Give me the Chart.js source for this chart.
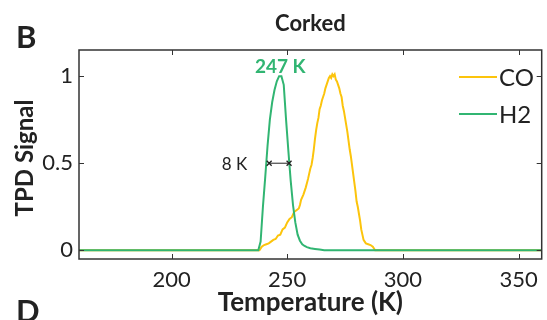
<!DOCTYPE html>
<html>
<head>
<meta charset="utf-8">
<script src="https://cdn.jsdelivr.net/npm/chart.js@4.4.1/dist/chart.umd.min.js"></script>
<style>
    html, body { margin: 0; padding: 0; background: #fff; }
    #wrap { width: 547px; height: 320px; }
</style>
</head>
<body>
<div id="wrap"><canvas id="myChart" width="547" height="320"></canvas></div>
<script>
// temperature (K) and normalised TPD signal
var h2T = [160, 237.5, 238.5, 239.5, 240.5, 241.5, 242.5, 243.5, 244.5, 245.5, 246.5, 247.5, 248.5, 249.5, 250.5, 251.5, 252.5, 253.5, 254.5, 255.5, 256.5, 257.5, 258.5, 260, 262, 264, 266, 360];
var h2Signal = [0, 0, 0.05, 0.25, 0.42, 0.6, 0.75, 0.85, 0.92, 0.97, 1.0, 1.0, 0.95, 0.75, 0.57, 0.4, 0.26, 0.16, 0.09, 0.055, 0.035, 0.025, 0.018, 0.012, 0.008, 0.004, 0, 0];

var coT = [160, 238, 239, 240, 241, 242, 243, 244, 245, 246, 247, 248, 249, 250, 251, 252, 253, 254, 255, 255.5, 256, 257, 258, 259, 259.5, 260, 260.5, 261, 261.5, 262, 262.5, 263, 263.5, 264, 264.5, 265, 265.5, 266, 266.5, 267, 267.5, 268, 268.5, 269, 269.5, 270, 270.5, 271, 271.5, 272, 272.5, 273, 273.5, 274, 274.5, 275, 275.5, 276, 276.5, 277, 277.5, 278, 278.5, 279, 279.5, 280, 280.5, 281, 281.5, 282, 282.5, 283, 283.5, 284, 285, 286, 287, 288, 360];
var coSignal = [0, 0, 0.02, 0.03, 0.035, 0.04, 0.05, 0.06, 0.065, 0.085, 0.09, 0.12, 0.13, 0.16, 0.18, 0.19, 0.22, 0.23, 0.24, 0.26, 0.29, 0.32, 0.36, 0.41, 0.44, 0.47, 0.49, 0.53, 0.58, 0.64, 0.69, 0.73, 0.76, 0.81, 0.83, 0.86, 0.88, 0.9, 0.93, 0.95, 0.97, 0.99, 1.0, 0.99, 1.01, 1.0, 1.01, 0.98, 0.97, 0.95, 0.93, 0.9, 0.88, 0.83, 0.8, 0.76, 0.72, 0.68, 0.63, 0.58, 0.54, 0.49, 0.44, 0.39, 0.34, 0.28, 0.25, 0.21, 0.17, 0.12, 0.09, 0.06, 0.05, 0.04, 0.035, 0.03, 0.02, 0, 0];

// FWHM marker for H2
var fwhmT = [242.2, 250.8];
var fwhmSignal = [0.5, 0.5];

var xTicks = [200, 250, 300, 350];
var yTicks = [0, 0.5, 1];

var green = '#31b572';
var yellow = '#fcc40c';
var ink = '#222222';
var fam = 'Lato, "Open Sans", sans-serif';

function pts(xs, ys) {
    return xs.map(function (x, i) { return { x: x, y: ys[i] }; });
}

var decor = {
    id: 'decor',
    afterDraw: function (chart) {
        var ctx = chart.ctx;
        var a = chart.chartArea;
        var sx = chart.scales.x, sy = chart.scales.y;
        ctx.save();
        // box
        ctx.strokeStyle = '#333';
        ctx.lineWidth = 1.5;
        ctx.strokeRect(a.left, a.top, a.right - a.left, a.bottom - a.top);
        // inward ticks, mirrored
        ctx.lineWidth = 1;
        ctx.beginPath();
        xTicks.forEach(function (t) {
            var px = Math.round(sx.getPixelForValue(t)) + 0.5;
            ctx.moveTo(px, a.bottom); ctx.lineTo(px, a.bottom - 5);
            ctx.moveTo(px, a.top); ctx.lineTo(px, a.top + 5);
        });
        yTicks.forEach(function (t) {
            var py = Math.round(sy.getPixelForValue(t)) + 0.5;
            ctx.moveTo(a.left, py); ctx.lineTo(a.left + 5, py);
            ctx.moveTo(a.right, py); ctx.lineTo(a.right - 5, py);
        });
        ctx.stroke();

        // legend inside the plot
        var items = [['CO', yellow, 77], ['H2', green, 114]];
        ctx.font = '24px ' + fam;
        ctx.textBaseline = 'middle';
        ctx.textAlign = 'left';
        items.forEach(function (it) {
            ctx.strokeStyle = it[1];
            ctx.lineWidth = 2;
            ctx.beginPath();
            ctx.moveTo(459, it[2]); ctx.lineTo(497, it[2]);
            ctx.stroke();
            ctx.fillStyle = ink;
            ctx.fillText(it[0], 499, it[2] + 1);
        });

        // annotations
        ctx.textAlign = 'center';
        ctx.fillStyle = green;
        ctx.font = 'bold 19px ' + fam;
        ctx.fillText('247 K', sx.getPixelForValue(247), 67);
        ctx.fillStyle = ink;
        ctx.font = '17px ' + fam;
        ctx.textAlign = 'right';
        ctx.fillText('8 K', sx.getPixelForValue(fwhmT[0]) - 22, sy.getPixelForValue(0.5) + 1);

        // titles
        ctx.textAlign = 'center';
        ctx.font = 'bold 22px ' + fam;
        ctx.fillText('Corked', (a.left + a.right) / 2, 24);
        ctx.font = 'bold 26px ' + fam;
        ctx.fillText('Temperature (K)', (a.left + a.right) / 2, 303);
        ctx.font = 'bold 31px ' + fam;
        ctx.textAlign = 'left';
        ctx.fillText('B', 16, 38);
        ctx.fillText('D', 16, 312);
        ctx.save();
        ctx.translate(25, 158);
        ctx.rotate(-Math.PI / 2);
        ctx.textAlign = 'center';
        ctx.font = 'bold 24px ' + fam;
        ctx.fillText('TPD Signal', 0, 0);
        ctx.restore();
        ctx.restore();
    }
};

window.onload = function () {
    var ctx = document.getElementById('myChart').getContext('2d');
    var config = {
        type: 'line',
        data: {
            datasets: [{
                label: 'CO',
                data: pts(coT, coSignal),
                borderColor: yellow,
                borderWidth: 2,
                pointRadius: 0,
                order: 3
            }, {
                label: 'H2',
                data: pts(h2T, h2Signal),
                borderColor: green,
                borderWidth: 2,
                pointRadius: 0,
                order: 2
            }, {
                label: 'fwhm',
                data: pts(fwhmT, fwhmSignal),
                borderColor: ink,
                borderWidth: 1,
                pointStyle: 'crossRot',
                pointRadius: 3.5,
                pointBorderWidth: 1.3,
                pointBorderColor: ink,
                order: 1
            }]
        },
        options: {
            responsive: false,
            animation: false,
            layout: { padding: { top: 50, right: 1, left: 0, bottom: 0 } },
            plugins: {
                legend: { display: false },
                title: { display: false },
                tooltip: { enabled: false }
            },
            scales: {
                x: {
                    type: 'linear',
                    min: 160,
                    max: 360,
                    grid: { display: false, drawTicks: false },
                    border: { display: false },
                    afterBuildTicks: function (s) { s.ticks = xTicks.map(function (v) { return { value: v }; }); },
                    afterFit: function (s) { s.height = 61; },
                    ticks: { font: { family: fam, size: 22 }, color: ink, padding: 8, maxRotation: 0 }
                },
                y: {
                    min: -0.05,
                    max: 1.15,
                    grid: { display: false, drawTicks: false },
                    border: { display: false },
                    afterBuildTicks: function (s) { s.ticks = yTicks.map(function (v) { return { value: v }; }); },
                    afterFit: function (s) { s.width = 79; },
                    ticks: {
                        font: { family: fam, size: 22 }, color: ink, padding: 6,
                        callback: function (v) { return String(v); }
                    }
                }
            }
        },
        plugins: [decor]
    };
    window.myChart = new Chart(ctx, config);
};
</script>
</body>
</html>
